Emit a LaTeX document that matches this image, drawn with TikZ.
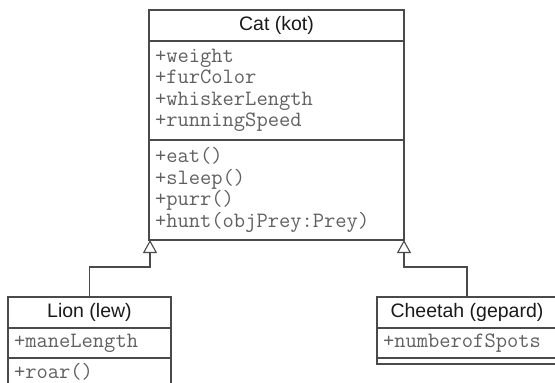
\documentclass[tikz,border=0pt]{standalone}
\usepackage{fontspec}
\setmainfont{Liberation Sans}
\usetikzlibrary{arrows.meta}
\definecolor{linec}{HTML}{4A4A4A}
\definecolor{memc}{HTML}{606060}
\definecolor{titc}{HTML}{1A1A1A}
\tikzset{
  sect/.style={draw=linec, line width=1.1pt, anchor=north west, inner sep=0pt, outer sep=0pt},
  titlebox/.style={sect, minimum height=31pt, text=titc, font=\fontsize{19.5}{22}\selectfont},
  membox/.style={sect, align=left, text=memc, inner xsep=6pt, font=\ttfamily\fontsize{21.9}{21.5}\selectfont},
  gen/.style={draw=linec, line width=1.1pt, -{Triangle[open, length=13pt, width=14pt]}},
}
\begin{document}
\begin{tikzpicture}[x=1pt, y=-1pt]
\useasboundingbox (0,0) rectangle (555,383);
\clip (0,0) rectangle (555,383);
% Cat
\node[titlebox, minimum width=255pt] (catT) at (149,10) {Cat (kot)};
\node[membox, text width=243pt, minimum height=99pt] (catA) at (catT.south west)
  {+weight\\+furColor\\+whiskerLength\\+runningSpeed};
\node[membox, text width=243pt, minimum height=100pt] (catM) at (catA.south west)
  {+eat()\\+sleep()\\+purr()\\+hunt(objPrey:Prey)};
% Lion
\node[titlebox, minimum width=163pt] (lionT) at (8,297) {Lion (lew)};
\node[membox, text width=151pt, minimum height=30pt] (lionA) at (lionT.south west) {+maneLength};
\node[membox, text width=151pt, minimum height=27pt] (lionM) at (lionA.south west) {+roar()};
% Cheetah
\node[titlebox, minimum width=180pt] (cheT) at (377,297) {Cheetah (gepard)};
\node[membox, text width=168pt, minimum height=30pt] (cheA) at (cheT.south west) {+numberofSpots};
\node[sect, minimum width=180pt, minimum height=6pt] (cheM) at (cheA.south west) {};
% Generalisations
\coordinate (lj) at ([xshift=1pt]catM.south west);
\coordinate (rj) at (catM.south east);
\draw[gen] (lionT.north) -- (lionT.north |- 0,267) -| (lj);
\draw[gen] (cheT.north) -- (cheT.north |- 0,267) -| (rj);
\end{tikzpicture}
\end{document}
